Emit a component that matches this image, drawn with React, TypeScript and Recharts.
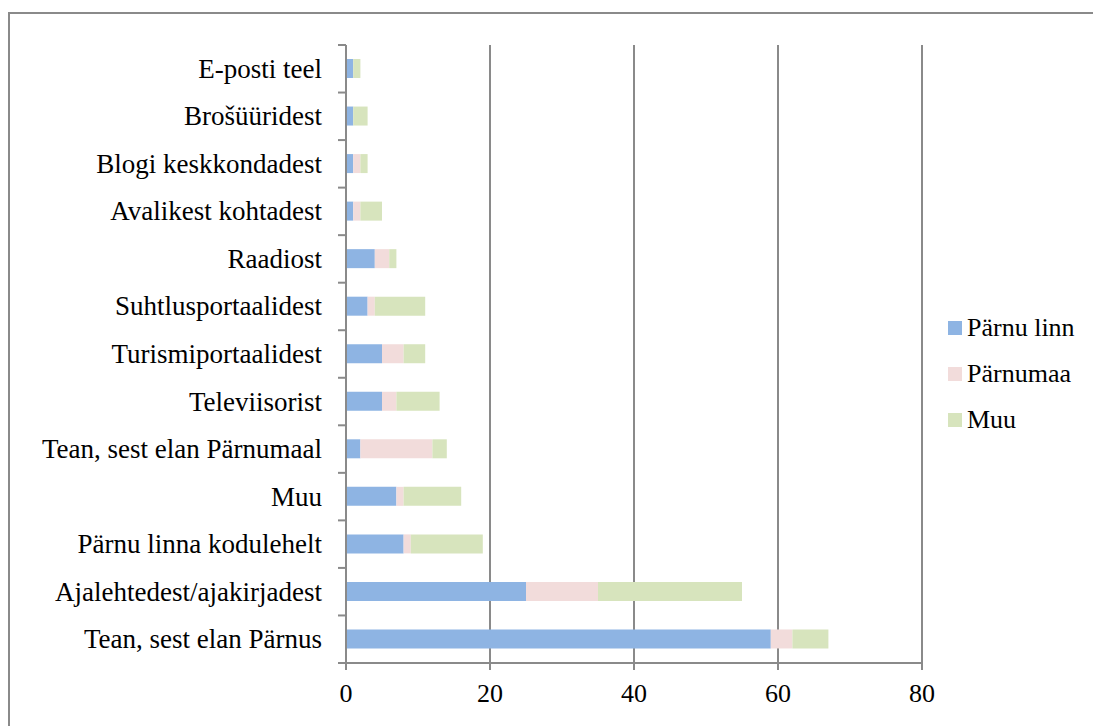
import { BarChart, Bar, XAxis, YAxis, CartesianGrid, Legend } from "recharts";

// kategooriad ülevalt alla
const CATEGORIES = [
  "E-posti teel",
  "Brošüüridest",
  "Blogi keskkondadest",
  "Avalikest kohtadest",
  "Raadiost",
  "Suhtlusportaalidest",
  "Turismiportaalidest",
  "Televiisorist",
  "Tean, sest elan Pärnumaal",
  "Muu",
  "Pärnu linna kodulehelt",
  "Ajalehtedest/ajakirjadest",
  "Tean, sest elan Pärnus",
];
const PARNU_LINN = [1, 1, 1, 1, 4, 3, 5, 5, 2, 7, 8, 25, 59];
const PARNUMAA = [0, 0, 1, 1, 2, 1, 3, 2, 10, 1, 1, 10, 3];
const MUU = [1, 2, 1, 3, 1, 7, 3, 6, 2, 8, 10, 20, 5];
const X_TICKS = [0, 20, 40, 60, 80];

const SERIES = [
  { key: "linn", name: "Pärnu linn", color: "#8EB4E3" },
  { key: "maa", name: "Pärnumaa", color: "#F2DCDB" },
  { key: "muu", name: "Muu", color: "#D7E4BD" },
];

const data = CATEGORIES.map((name, i) => ({
  name,
  linn: PARNU_LINN[i],
  maa: PARNUMAA[i],
  muu: MUU[i],
}));

const W = 1093;
const H = 726;
const TOP = 45;
const AXIS_Y = 663;
const Y_W = 346;
const PLOT_RIGHT = 922;
const X_H = 55;
const BAND = (AXIS_Y - TOP) / CATEGORIES.length;
const GRAY = "#8a8a8a";
const FONT = "'Liberation Serif', 'Times New Roman', serif";
const FS = 26;

// silt + jaotuse kriips kategooriate vahel
// eslint-disable-next-line @typescript-eslint/no-explicit-any
function CategoryTick(props: any) {
  const { y, payload, index } = props;
  return (
    <g>
      <text
        x={Y_W - 24}
        y={y}
        textAnchor="end"
        dominantBaseline="central"
        fontFamily={FONT}
        fontSize={27}
        fill="#000"
      >
        {payload.value}
      </text>
      <line x1={Y_W - 8} x2={Y_W} y1={y + BAND / 2} y2={y + BAND / 2} stroke={GRAY} strokeWidth={2} />
      {index === 0 && (
        <line x1={Y_W - 8} x2={Y_W} y1={y - BAND / 2} y2={y - BAND / 2} stroke={GRAY} strokeWidth={2} />
      )}
    </g>
  );
}

// legend sarjade järjekorras (mitte tähestiku järgi)
function LegendBox() {
  return (
    <div style={{ fontFamily: FONT, fontSize: FS, color: "#000" }}>
      {SERIES.map((s) => (
        <div key={s.key} style={{ display: "flex", alignItems: "center", height: 46 }}>
          <span style={{ width: 14, height: 14, background: s.color, marginRight: 5, display: "inline-block" }} />
          <span>{s.name}</span>
        </div>
      ))}
    </div>
  );
}

export default function App() {
  return (
    <div style={{ position: "absolute", left: 0, top: 0, width: W, height: H, background: "#fff", overflow: "hidden" }}>
      <div
        style={{
          position: "absolute",
          left: 8,
          top: 12,
          width: 1200,
          height: 800,
          border: `2px solid ${GRAY}`,
        }}
      />
      <BarChart
        width={W}
        height={H}
        data={data}
        layout="vertical"
        barSize={19}
        margin={{ top: TOP, right: W - PLOT_RIGHT, bottom: H - AXIS_Y - X_H, left: 0 }}
        style={{ position: "absolute", left: 0, top: 0 }}
      >
        <CartesianGrid horizontal={false} stroke={GRAY} strokeWidth={2} />
        <XAxis
          type="number"
          domain={[0, 80]}
          ticks={X_TICKS}
          height={X_H}
          axisLine={{ stroke: GRAY, strokeWidth: 2 }}
          tickLine={{ stroke: GRAY, strokeWidth: 2 }}
          tickSize={7}
          tickMargin={14}
          tick={{ fill: "#000", fontFamily: FONT, fontSize: FS }}
        />
        <YAxis
          type="category"
          dataKey="name"
          width={Y_W}
          axisLine={{ stroke: GRAY, strokeWidth: 2 }}
          tickLine={false}
          tick={<CategoryTick />}
          interval={0}
        />
        <Legend
          layout="vertical"
          align="center"
          verticalAlign="middle"
          content={<LegendBox />}
          wrapperStyle={{ left: 948, top: 305, width: 145 }}
        />
        {SERIES.map((s) => (
          <Bar key={s.key} dataKey={s.key} name={s.name} stackId="a" fill={s.color} isAnimationActive={false} />
        ))}
      </BarChart>
    </div>
  );
}
